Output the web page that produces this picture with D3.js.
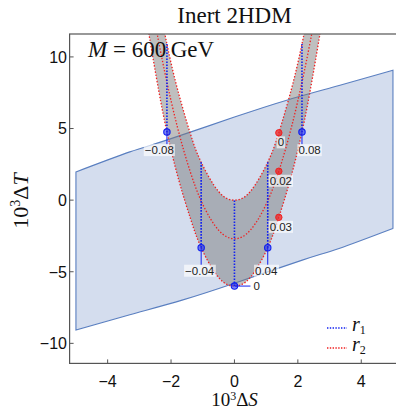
<!DOCTYPE html>
<html><head><meta charset="utf-8">
<script src="https://cdn.jsdelivr.net/npm/d3@7/dist/d3.min.js"></script>
<style>body{margin:0;background:#fff}svg{display:block}</style>
</head><body><svg id="c" width="396" height="410"></svg>
<script>
// ---- data ----
const xTicks = [-4, -2, 0, 2, 4];
const yTicks = [-10, -5, 0, 5, 10];
// allowed (S,T) region
const regionTopS = [-5, -3.3, -2.14, 0, 1.65, 3.3, 5];
const regionTopT = [1.97, 3.37, 4.19, 5.8, 6.98, 8.0, 9.07];
const regionBottomS = [5, 3.3, 2.14, 0, -1.65, -3.3, -5];
const regionBottomT = [-1.97, -3.37, -4.19, -5.8, -6.98, -8.0, -9.07];
// r2 curves (r1 varies along each)
const r2Values = [0, 0.02, 0.03];
const curveS_r2_0 = [-2.5, -2.13, -1.8, -1.4, -1.05, -0.5, 0, 0.5, 1.05, 1.4, 1.8, 2.13, 2.5];
const curveT_r2_0 = [15.0, 10.9, 7.78, 4.7, 2.65, 0.6, 0, 0.6, 2.65, 4.7, 7.78, 10.9, 15.0];
const curveS_r2_002 = [-3.0, -2.6, -2.2, -1.8, -1.4, -1.0, -0.5, 0, 0.5, 1.0, 1.4, 1.8, 2.2, 2.6, 3.0];
const curveT_r2_002 = [18.99, 13.59, 8.96, 5.11, 2.02, -0.29, -2.1, -2.7, -2.1, -0.29, 2.02, 5.11, 8.96, 13.59, 18.99];
const curveS_r2_003 = [-3.0, -2.75, -2.45, -2.13, -1.75, -1.4, -1.05, -0.5, 0, 0.5, 1.05, 1.4, 1.75, 2.13, 2.45, 2.75, 3.0];
const curveT_r2_003 = [15.6, 12.3, 8.4, 4.75, 1.35, -1.2, -3.32, -5.4, -6.0, -5.4, -3.32, -1.2, 1.35, 4.75, 8.4, 12.3, 15.6];
// r1 lines (r2 varies along each)
const r1Values = [-0.08, -0.04, 0, 0.04, 0.08];
const r1S = [-2.13, -1.05, 0, 1.05, 2.13];
const r1LowT = [4.75, -3.32, -6.0, -3.32, 4.75];
const r1HighT = [10.9, 2.65, 0, 2.65, 10.9];
// r2 marked points
const r2PointS = [1.4, 1.4, 1.4];
const r2PointT = [4.7, 2.02, -1.2];
const r2PointLabels = ["0", "0.02", "0.03"];
const r1PointLabels = ["\u22120.08", "\u22120.04", "0", "0.04", "0.08"];

// ---- drawing ----
const svg = d3.select("#c");
const x = d3.scaleLinear().domain([-5.2, 5.2]).range([69.6, 399.3]);
const y = d3.scaleLinear().domain([-11.4, 11.6]).range([363.4, 34]);
const BLUE = "#1020f0", RED = "#f02020";

svg.append("defs").append("clipPath").attr("id", "clip")
  .append("rect").attr("x", x(-5.2)).attr("y", y(11.6))
  .attr("width", x(5.2) - x(-5.2)).attr("height", y(-11.4) - y(11.6));

const zip = (S, T) => S.map((s, i) => [s, T[i]]);
const line = d3.line().x(d => x(d[0])).y(d => y(d[1])).curve(d3.curveNatural);
const g = svg.append("g").attr("clip-path", "url(#clip)");

// region
const topP = line(zip(regionTopS, regionTopT));
const botP = line(zip(regionBottomS, regionBottomT)).replace(/^M/, "L");
g.append("path").attr("d", topP + botP + "Z")
  .attr("fill", "#d4ddee").attr("stroke", "#5a7fc0").attr("stroke-width", 1.1);

// gray band between r2=0.03 and r2=0
const outer = zip(curveS_r2_003, curveT_r2_003);
const inner = zip(curveS_r2_0, curveT_r2_0).slice().reverse();
g.append("path").attr("d", line(outer) + line(inner).replace(/^M/, "L") + "Z")
  .attr("fill", "#7a7a7a").attr("fill-opacity", 0.48).attr("stroke", "none");

// red curves
[zip(curveS_r2_0, curveT_r2_0), zip(curveS_r2_002, curveT_r2_002), outer].forEach(c => {
  g.append("path").attr("d", line(c)).attr("fill", "none")
    .attr("stroke", RED).attr("stroke-width", 1.3).attr("stroke-dasharray", "1.4 1.8");
});

// blue r1 lines
r1Values.forEach((r, i) => {
  g.append("line").attr("x1", x(r1S[i])).attr("x2", x(r1S[i]))
    .attr("y1", y(r1LowT[i])).attr("y2", y(r1HighT[i]))
    .attr("stroke", BLUE).attr("stroke-width", 1.6).attr("stroke-dasharray", "1.6 1.4");
});

// labels helper
function label(cx, cy, txt, anchor) {
  const t = svg.append("text").attr("x", cx).attr("y", cy).attr("dy", "0.35em")
    .attr("text-anchor", anchor || "middle")
    .attr("font-family", "Liberation Sans, Arial, sans-serif").attr("font-size", 11.5)
    .attr("fill", "#222").text(txt);
  const b = t.node().getBBox();
  svg.insert("rect", () => t.node()).attr("x", b.x - 1).attr("y", b.y)
    .attr("width", b.width + 2).attr("height", b.height)
    .attr("fill", "#fff").attr("fill-opacity", 0.65);
  return b;
}

// r1 points with callouts
r1Values.forEach((r, i) => {
  const px = x(r1S[i]), py = y(r1LowT[i]);
  if (r === 0) {
    label(px + 19, py, r1PointLabels[i], "start");
    svg.append("line").attr("x1", px).attr("x2", px + 16).attr("y1", py).attr("y2", py)
      .attr("stroke", BLUE).attr("stroke-width", 1);
  } else {
    const big = Math.abs(r) > 0.06;
    const dx = big ? Math.sign(r) * 7.6 : -1.5;
    const dy = big ? 18 : 23;
    const b = label(px + dx, py + dy, r1PointLabels[i]);
    svg.append("line").attr("x1", px).attr("x2", px).attr("y1", py).attr("y2", b.y)
      .attr("stroke", BLUE).attr("stroke-width", 1);
  }
  svg.append("circle").attr("cx", px).attr("cy", py).attr("r", 3.2)
    .attr("fill", BLUE).attr("fill-opacity", 0.55).attr("stroke", BLUE).attr("stroke-width", 1.1);
});

// r2 points
r2Values.forEach((r, i) => {
  const px = x(r2PointS[i]), py = y(r2PointT[i]);
  label(px + 2, py + 9.5, r2PointLabels[i]);
  svg.append("circle").attr("cx", px).attr("cy", py).attr("r", 3.2)
    .attr("fill", RED).attr("fill-opacity", 0.75).attr("stroke", RED).attr("stroke-width", 1);
});

// frame
svg.append("rect").attr("x", x(-5.2)).attr("y", y(11.6))
  .attr("width", x(5.2) - x(-5.2)).attr("height", y(-11.4) - y(11.6))
  .attr("fill", "none").attr("stroke", "#555").attr("stroke-width", 1.2);

// axes ticks
const tickFont = "Liberation Sans, Arial, sans-serif";
const fmt = v => v < 0 ? "\u2212" + Math.abs(v) : String(v);
xTicks.forEach(v => {
  svg.append("line").attr("x1", x(v)).attr("x2", x(v)).attr("y1", y(-11.4)).attr("y2", y(-11.4) - 4)
    .attr("stroke", "#555").attr("stroke-width", 1);
  svg.append("text").attr("x", x(v)).attr("y", 386.5).attr("text-anchor", "middle")
    .attr("font-family", tickFont).attr("font-size", 16).attr("fill", "#111").text(fmt(v));
});
yTicks.forEach(v => {
  svg.append("line").attr("x1", x(-5.2)).attr("x2", x(-5.2) + 4).attr("y1", y(v)).attr("y2", y(v))
    .attr("stroke", "#555").attr("stroke-width", 1);
  svg.append("text").attr("x", 67).attr("y", y(v)).attr("dy", "0.36em").attr("text-anchor", "end")
    .attr("font-family", tickFont).attr("font-size", 16).attr("fill", "#111").text(fmt(v));
});

const serif = "Liberation Serif, Times New Roman, serif";
// title
svg.append("text").attr("x", 234.5).attr("y", 23).attr("text-anchor", "middle")
  .attr("font-family", serif).attr("font-size", 23).attr("fill", "#111").text("Inert 2HDM");

// M = 600 GeV
const mt = svg.append("text").attr("x", 88).attr("y", 57)
  .attr("font-family", serif).attr("font-size", 23).attr("fill", "#111");
mt.append("tspan").attr("font-style", "italic").text("M");
mt.append("tspan").text(" = 600\u2009GeV");

// x label
const xl = svg.append("text").attr("x", 234.5).attr("y", 405.5).attr("text-anchor", "middle")
  .attr("font-family", serif).attr("font-size", 19).attr("fill", "#111");
xl.append("tspan").text("10");
xl.append("tspan").attr("font-size", 12).attr("dy", -6).text("3");
xl.append("tspan").attr("dy", 6).text("\u0394");
xl.append("tspan").attr("font-style", "italic").text("S");

// y label
const yl = svg.append("text").attr("transform", "translate(28,201) rotate(-90)")
  .attr("text-anchor", "middle")
  .attr("font-family", serif).attr("font-size", 22).attr("fill", "#111");
yl.append("tspan").text("10");
yl.append("tspan").attr("font-size", 14).attr("dy", -8).text("3");
yl.append("tspan").attr("dy", 8).text("\u0394");
yl.append("tspan").attr("font-style", "italic").text("T");

// legend
[[BLUE, "1", 328], [RED, "2", 348]].forEach(([col, sub, ly]) => {
  svg.append("line").attr("x1", 327).attr("x2", 347).attr("y1", ly).attr("y2", ly)
    .attr("stroke", col).attr("stroke-width", 1.3).attr("stroke-dasharray", "1.4 1.4");
  const t = svg.append("text").attr("x", 352).attr("y", ly + 3)
    .attr("font-family", serif).attr("font-size", 20).attr("fill", "#111");
  t.append("tspan").attr("font-style", "italic").text("r");
  t.append("tspan").attr("font-size", 12).attr("dy", 3).text(sub);
});
</script>
</body></html>
